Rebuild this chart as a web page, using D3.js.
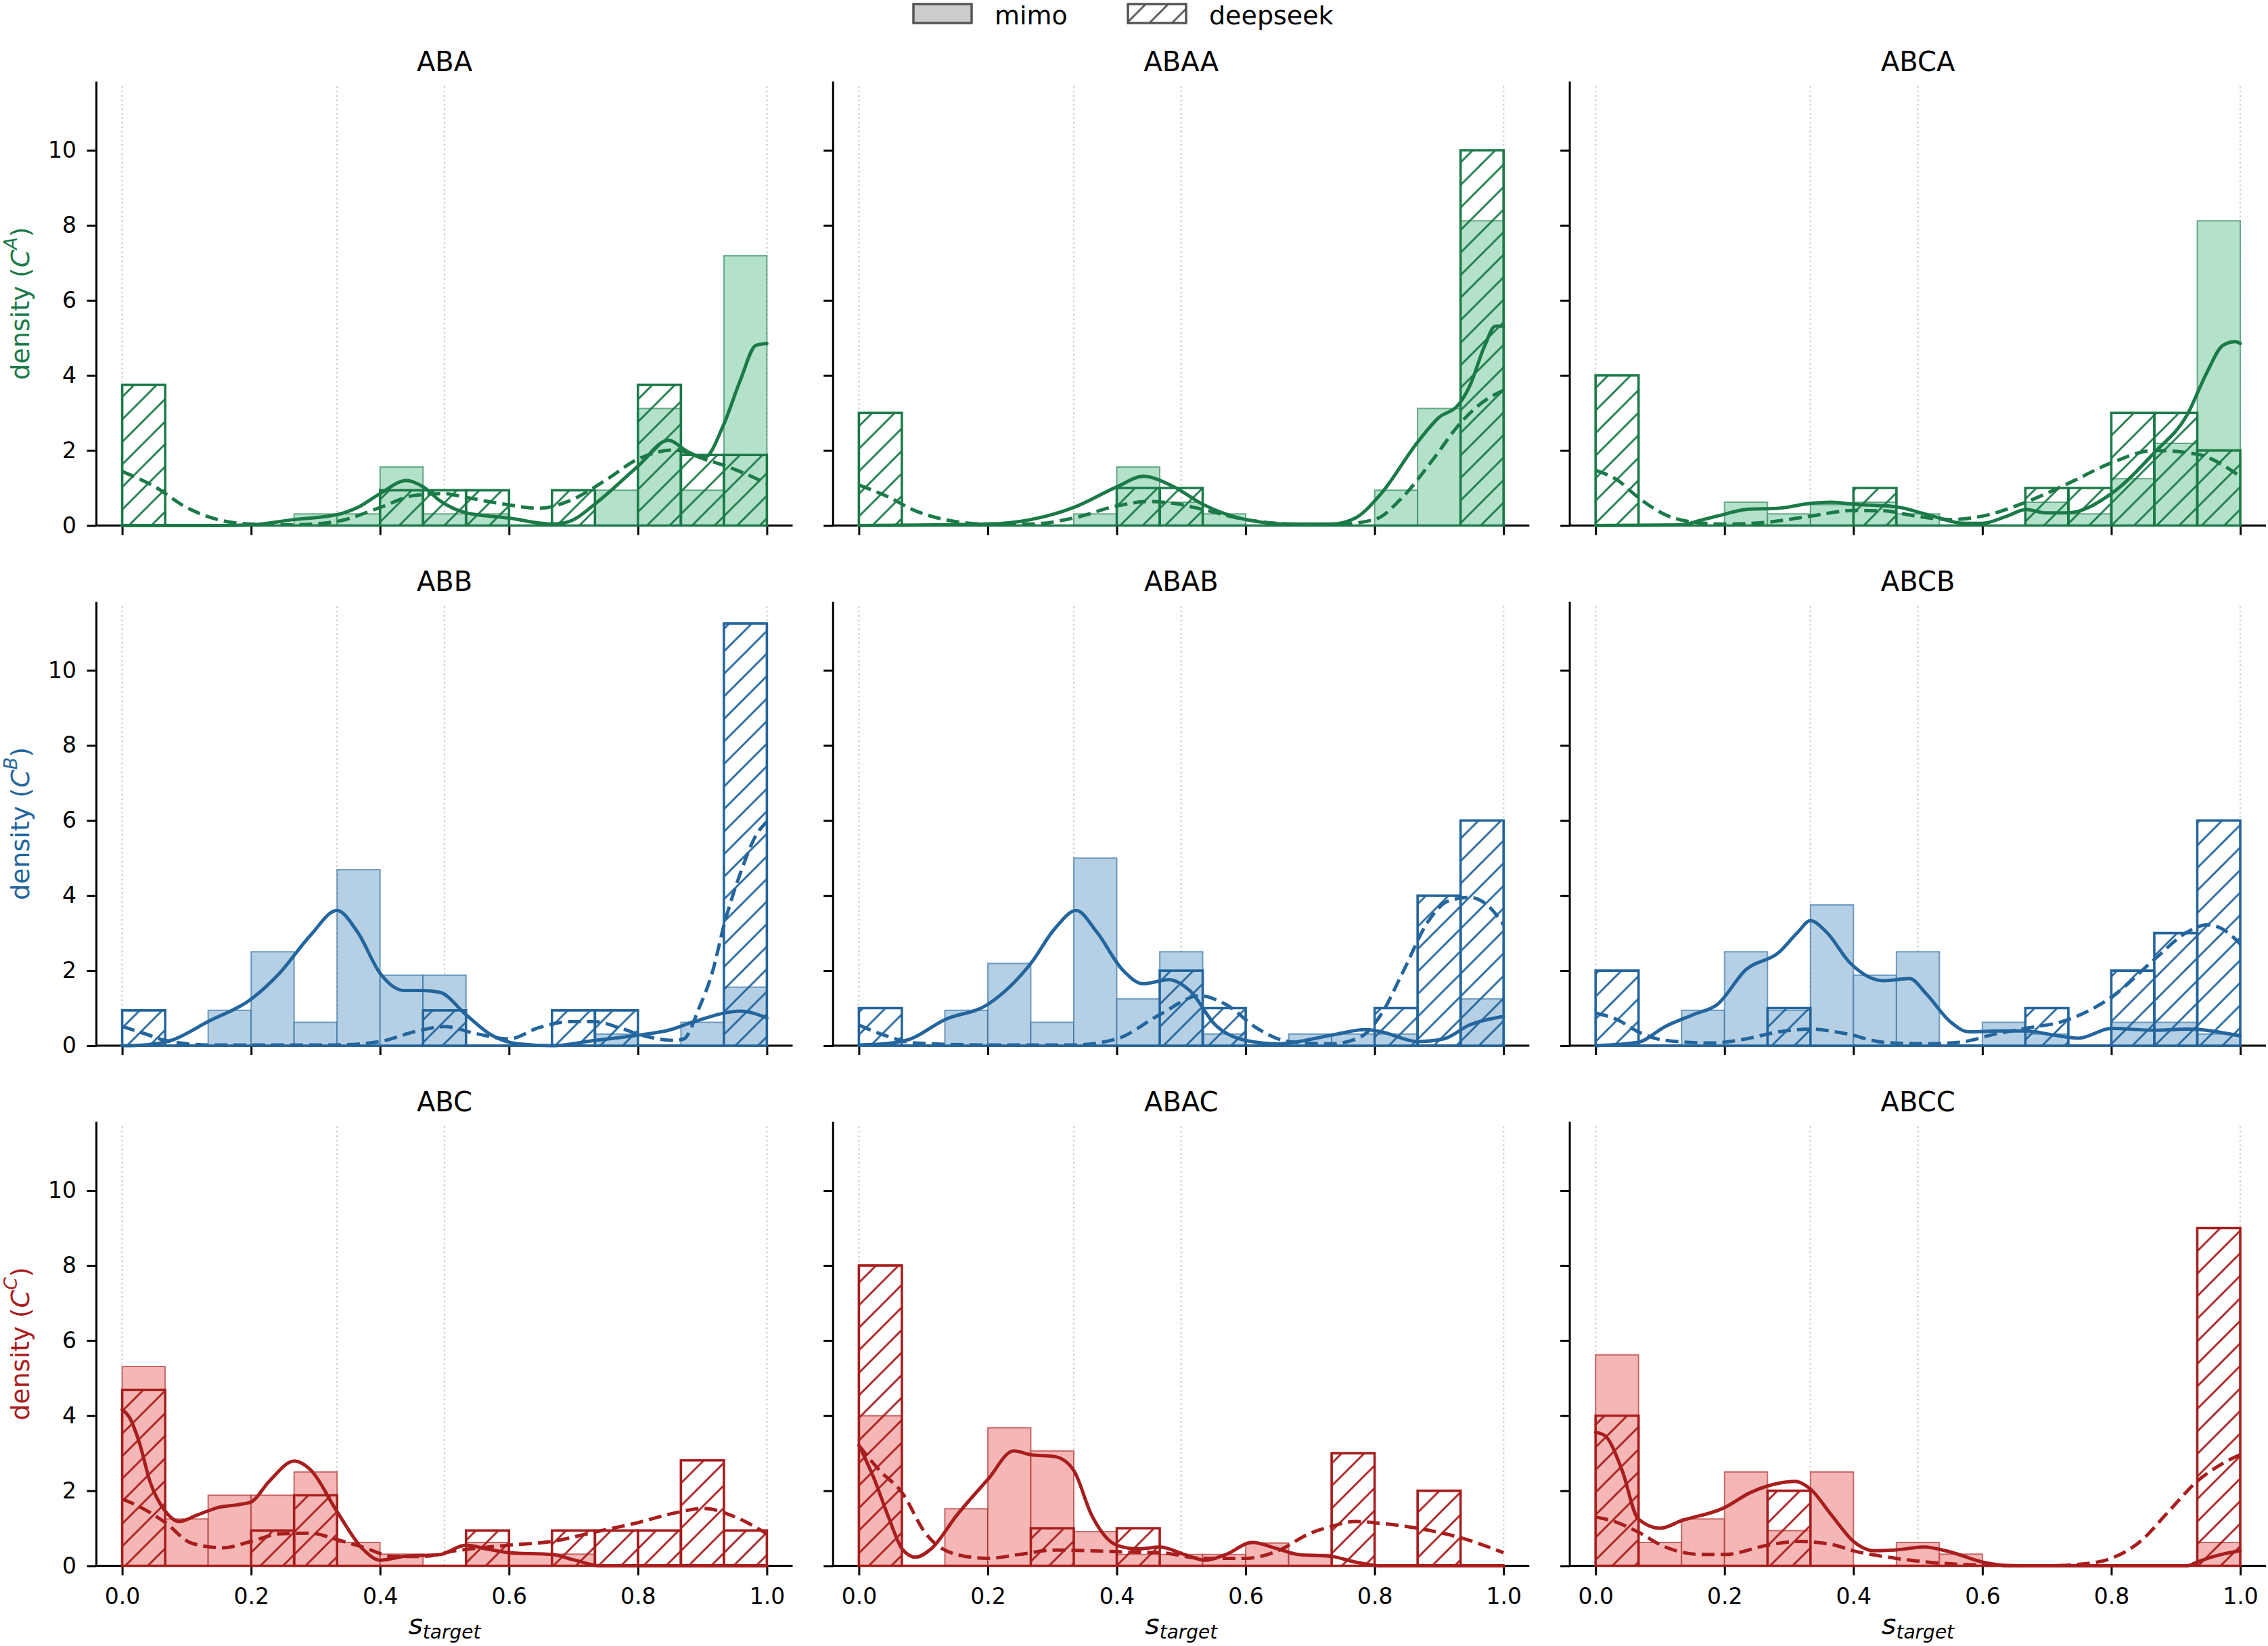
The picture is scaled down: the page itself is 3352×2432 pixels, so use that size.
<!DOCTYPE html>
<html>
<head>
<meta charset="utf-8">
<script src="https://cdn.jsdelivr.net/npm/d3@7"></script>
<style>
  body { margin: 0; background: #fff; }
  text { font-family: "DejaVu Sans", sans-serif; }
</style>
</head>
<body>
<svg id="chart"></svg>
<script>
// ---- data ----
const panelNames = ["ABA", "ABAA", "ABCA", "ABB", "ABAB", "ABCB", "ABC", "ABAC", "ABCC"];
const rowLetters = ["A", "B", "C"];
const legendNames = ["mimo", "deepseek"];
const xTicks = [0, 0.2, 0.4, 0.6, 0.8, 1.0];
const yTicks = [0, 2, 4, 6, 8, 10];
const guideX = [0, 1 / 3, 0.5, 1];

// density per bin, 15 bins over [0, 1]
const mimoHist = [
  [0, 0, 0, 0, 0.31, 0.31, 1.56, 0.31, 0.31, 0, 0, 0.94, 3.12, 0.94, 7.19],
  [0, 0, 0, 0, 0, 0.31, 1.56, 0.62, 0.31, 0, 0, 0, 0.94, 3.12, 8.12],
  [0, 0, 0, 0.62, 0.31, 0.56, 0.62, 0.31, 0, 0, 0.62, 0.31, 1.25, 2.19, 8.12],
  [0, 0, 0.94, 2.5, 0.62, 4.69, 1.88, 1.88, 0, 0, 0, 0.31, 0, 0.62, 1.56],
  [0, 0, 0.94, 2.19, 0.62, 5.0, 1.25, 2.5, 0.31, 0, 0.31, 0.31, 0.31, 0, 1.25],
  [0, 0, 0.94, 2.5, 0.94, 3.75, 1.88, 2.5, 0, 0.62, 0.31, 0, 0.62, 0.62, 0.31],
  [5.31, 1.25, 1.88, 1.88, 2.5, 0.62, 0.31, 0, 0.62, 0.31, 0.31, 0, 0, 0, 0],
  [4.0, 0, 1.52, 3.68, 3.06, 0.91, 0.3, 0.3, 0.3, 0.61, 0.3, 0, 0, 0, 0],
  [5.62, 0.62, 1.25, 2.5, 0.94, 2.5, 0, 0.62, 0.31, 0, 0, 0, 0, 0, 0.62]
];
const deepHist = [
  [3.75, 0, 0, 0, 0, 0, 0.94, 0.94, 0.94, 0, 0.94, 0, 3.75, 1.88, 1.88],
  [3, 0, 0, 0, 0, 0, 1, 1, 0, 0, 0, 0, 0, 0, 10],
  [4, 0, 0, 0, 0, 0, 1, 0, 0, 0, 1, 1, 3, 3, 2],
  [0.94, 0, 0, 0, 0, 0, 0, 0.94, 0, 0, 0.94, 0.94, 0, 0, 11.25],
  [1, 0, 0, 0, 0, 0, 0, 2, 1, 0, 0, 0, 1, 4, 6],
  [2, 0, 0, 0, 1, 0, 0, 0, 0, 0, 1, 0, 2, 3, 6],
  [4.69, 0, 0, 0.94, 1.88, 0, 0, 0, 0.94, 0, 0.94, 0.94, 0.94, 2.81, 0.94],
  [8, 0, 0, 0, 1, 0, 1, 0, 0, 0, 0, 3, 0, 2, 0],
  [4, 0, 0, 0, 2, 0, 0, 0, 0, 0, 0, 0, 0, 0, 9]
];

// KDE curves, [s_target, density] read at key points
const mimoKde = [
  [[0,0],[0.15,0],[0.2,0.02],[0.267,0.16],[0.333,0.29],[0.365,0.48],[0.4,0.85],[0.441,1.2],[0.467,1.03],[0.493,0.66],[0.533,0.34],[0.6,0.2],[0.667,0.04],[0.694,0.11],[0.733,0.57],[0.8,1.58],[0.847,2.27],[0.879,1.95],[0.903,1.81],[0.933,2.69],[0.959,3.88],[0.983,4.8],[1,4.85]],
  [[0,0],[0.2,0.04],[0.267,0.16],[0.333,0.48],[0.4,1.03],[0.441,1.31],[0.489,1.03],[0.533,0.57],[0.6,0.16],[0.667,0.04],[0.733,0.04],[0.77,0.2],[0.81,0.85],[0.867,2.23],[0.899,2.87],[0.931,3.24],[0.947,3.7],[0.971,4.8],[0.987,5.31],[1,5.31]],
  [[0,0],[0.133,0.02],[0.167,0.16],[0.2,0.3],[0.233,0.43],[0.284,0.46],[0.333,0.59],[0.366,0.62],[0.4,0.57],[0.466,0.5],[0.513,0.3],[0.572,0.06],[0.6,0.06],[0.638,0.25],[0.668,0.43],[0.697,0.34],[0.733,0.34],[0.8,0.85],[0.867,1.95],[0.918,2.96],[0.948,4.07],[0.973,4.8],[0.992,4.9],[1,4.85]],
  [[0,0],[0.035,0.02],[0.076,0.14],[0.133,0.64],[0.2,1.24],[0.244,1.93],[0.292,2.94],[0.333,3.6],[0.365,3.03],[0.4,1.93],[0.437,1.47],[0.467,1.47],[0.493,1.42],[0.533,0.83],[0.573,0.28],[0.614,0.05],[0.667,0],[0.733,0.14],[0.8,0.28],[0.847,0.41],[0.887,0.64],[0.959,0.92],[1,0.74]],
  [[0,0.02],[0.039,0.05],[0.08,0.18],[0.133,0.69],[0.2,1.1],[0.267,2.2],[0.304,3.12],[0.337,3.6],[0.369,3.03],[0.409,2.02],[0.441,1.65],[0.481,1.76],[0.513,1.47],[0.553,0.55],[0.6,0.14],[0.65,0.05],[0.733,0.28],[0.786,0.43],[0.81,0.37],[0.867,0.11],[0.907,0.18],[0.947,0.55],[1,0.78]],
  [[0,0],[0.066,0.09],[0.108,0.51],[0.152,0.83],[0.189,1.1],[0.233,2.02],[0.284,2.48],[0.314,3.03],[0.333,3.33],[0.358,3.03],[0.395,2.2],[0.447,1.73],[0.487,1.79],[0.513,1.38],[0.55,0.64],[0.579,0.37],[0.623,0.39],[0.667,0.39],[0.712,0.28],[0.749,0.2],[0.8,0.46],[0.867,0.41],[0.918,0.44],[1,0.26]],
  [[0,4.16],[0.011,3.96],[0.027,3.26],[0.043,2.25],[0.067,1.45],[0.088,1.18],[0.116,1.35],[0.148,1.55],[0.18,1.63],[0.2,1.7],[0.228,2.25],[0.267,2.79],[0.292,2.56],[0.333,1.45],[0.373,0.45],[0.4,0.15],[0.437,0.25],[0.493,0.3],[0.533,0.55],[0.565,0.45],[0.6,0.35],[0.667,0.3],[0.702,0.15],[0.742,0],[1,0]],
  [[0,3.21],[0.023,2.35],[0.047,1.25],[0.067,0.45],[0.088,0.23],[0.112,0.45],[0.152,1.35],[0.2,2.3],[0.24,3.06],[0.267,2.96],[0.304,2.91],[0.333,2.55],[0.361,1.35],[0.4,0.55],[0.433,0.45],[0.467,0.5],[0.505,0.3],[0.537,0.15],[0.569,0.3],[0.61,0.62],[0.65,0.45],[0.682,0.3],[0.733,0.25],[0.77,0.1],[0.81,0],[1,0]],
  [[0,3.56],[0.015,3.46],[0.041,2.55],[0.066,1.25],[0.1,1.0],[0.133,1.2],[0.2,1.55],[0.24,1.95],[0.284,2.2],[0.31,2.25],[0.333,2.05],[0.366,1.35],[0.4,0.65],[0.432,0.4],[0.469,0.43],[0.509,0.5],[0.55,0.37],[0.6,0.1],[0.646,0],[0.918,0],[0.933,0.1],[0.97,0.3],[1,0.4]]
];
const deepKde = [
  [[0,1.44],[0.051,1.03],[0.1,0.48],[0.148,0.16],[0.2,0.04],[0.267,0.02],[0.333,0.11],[0.4,0.48],[0.453,0.8],[0.5,0.85],[0.533,0.75],[0.6,0.55],[0.646,0.46],[0.694,0.66],[0.75,1.21],[0.8,1.77],[0.855,2.01],[0.903,1.77],[0.951,1.49],[1,1.12]],
  [[0,1.08],[0.047,0.75],[0.088,0.39],[0.133,0.16],[0.2,0.04],[0.267,0.04],[0.333,0.2],[0.4,0.52],[0.449,0.64],[0.489,0.59],[0.533,0.43],[0.6,0.16],[0.667,0.04],[0.733,0.02],[0.8,0.16],[0.843,0.75],[0.891,1.77],[0.931,2.69],[0.971,3.33],[1,3.6]],
  [[0,1.47],[0.034,1.21],[0.066,0.75],[0.108,0.29],[0.152,0.09],[0.2,0.04],[0.267,0.09],[0.333,0.25],[0.4,0.4],[0.447,0.39],[0.498,0.25],[0.55,0.16],[0.6,0.25],[0.667,0.62],[0.733,1.12],[0.8,1.67],[0.867,2.0],[0.933,1.9],[1,1.31]],
  [[0,0.51],[0.035,0.32],[0.067,0.14],[0.132,0.02],[0.333,0.02],[0.4,0.11],[0.453,0.37],[0.5,0.51],[0.549,0.32],[0.6,0.18],[0.646,0.48],[0.694,0.64],[0.733,0.64],[0.774,0.46],[0.806,0.28],[0.855,0.14],[0.871,0.18],[0.895,1.01],[0.915,1.93],[0.935,3.31],[0.959,4.6],[0.983,5.6],[1,5.97]],
  [[0,0.55],[0.039,0.28],[0.088,0.07],[0.2,0.02],[0.333,0.02],[0.4,0.18],[0.467,0.83],[0.529,1.33],[0.569,1.1],[0.618,0.46],[0.667,0.11],[0.733,0.05],[0.778,0.23],[0.81,0.83],[0.843,1.93],[0.883,3.31],[0.915,3.86],[0.947,3.95],[0.979,3.68],[1,3.22]],
  [[0,0.87],[0.034,0.69],[0.066,0.37],[0.108,0.14],[0.181,0.07],[0.233,0.18],[0.284,0.37],[0.333,0.44],[0.388,0.32],[0.447,0.09],[0.513,0.05],[0.564,0.09],[0.623,0.32],[0.667,0.46],[0.727,0.66],[0.8,1.29],[0.867,2.3],[0.918,3.03],[0.948,3.22],[0.97,3.13],[1,2.71]],
  [[0,1.78],[0.035,1.5],[0.067,1.15],[0.108,0.6],[0.156,0.48],[0.2,0.65],[0.244,0.85],[0.292,0.87],[0.333,0.7],[0.373,0.5],[0.421,0.25],[0.467,0.25],[0.517,0.4],[0.6,0.55],[0.667,0.65],[0.733,0.9],[0.8,1.15],[0.855,1.4],[0.903,1.53],[0.951,1.3],[1,0.85]],
  [[0,3.21],[0.031,2.56],[0.067,1.95],[0.104,0.85],[0.152,0.3],[0.2,0.2],[0.248,0.3],[0.304,0.42],[0.361,0.4],[0.409,0.37],[0.467,0.35],[0.533,0.2],[0.6,0.2],[0.65,0.4],[0.698,0.85],[0.733,1.05],[0.77,1.18],[0.81,1.13],[0.867,1.0],[0.933,0.75],[1,0.35]],
  [[0,1.3],[0.034,1.15],[0.066,0.9],[0.108,0.5],[0.167,0.3],[0.2,0.3],[0.267,0.55],[0.314,0.65],[0.366,0.57],[0.4,0.4],[0.466,0.2],[0.534,0.07],[0.6,0.02],[0.697,0],[0.756,0.05],[0.8,0.2],[0.845,0.65],[0.889,1.45],[0.933,2.25],[0.97,2.7],[1,2.96]]
];

// ---- styles / layout ----
const lineColor = ["#1b7a48", "#23659c", "#a81d1d"];
const fillColor = ["#b3e1c9", "#b5d0e5", "#f4b7b5"];
const W = 3352, H = 2432;
const colLeft = 180.6, colStep = 1088.8, plotW = 952.8;
const rowBase = 776.5, rowStep = 768.5, plotH = 656;
const yMax = 11.83;
const nBins = 15;
const edges = d3.range(nBins + 1).map(i => i / nBins);

const svg = d3.select("#chart").attr("width", W).attr("height", H);
svg.append("rect").attr("width", W).attr("height", H).attr("fill", "#fff");

const defs = svg.append("defs");
function addHatch(id, color) {
  const s = 33.3;
  const p = defs.append("pattern")
    .attr("id", id)
    .attr("patternUnits", "userSpaceOnUse")
    .attr("width", s).attr("height", s)
    .attr("y", H % s);
  p.append("path")
    .attr("d", `M0,${s}L${s},0M${-s / 2},${s / 2}L${s / 2},${-s / 2}M${s / 2},${1.5 * s}L${1.5 * s},${s / 2}`)
    .attr("stroke", color)
    .attr("stroke-width", 2.8);
}
lineColor.forEach((c, i) => addHatch("hatch" + i, c));
addHatch("hatchGray", "#555");

const barPath = (x, y, i, v) => {
  const x0 = x(edges[i]), x1 = x(edges[i + 1]), y0 = y(0), y1 = y(v);
  return `M${x0},${y0}L${x0},${y1}L${x1},${y1}L${x1},${y0}Z`;
};

panelNames.forEach((name, k) => {
  const row = Math.floor(k / 3), col = k % 3;
  const left = colLeft + col * colStep;
  const base = rowBase + row * rowStep;
  const x = d3.scaleLinear().domain([0, 1]).range([left, left + plotW]);
  const y = d3.scaleLinear().domain([0, yMax]).range([base, base - plotH]);
  const g = svg.append("g");

  // dotted guides
  g.selectAll(".guide").data(guideX).join("line")
    .attr("x1", d => x(d)).attr("x2", d => x(d))
    .attr("y1", base).attr("y2", base - plotH + 5)
    .attr("stroke", "#cfcfcf").attr("stroke-width", 2.4)
    .attr("stroke-dasharray", "2.4,4.2");

  // axes
  const yAxis = d3.axisLeft(y).tickValues(yTicks).tickSize(14).tickPadding(15.5)
    .tickFormat(col === 0 ? d3.format("d") : () => "");
  const xAxis = d3.axisBottom(x).tickValues(xTicks).tickSize(14).tickPadding(19)
    .tickFormat(row === 2 ? d3.format(".1f") : () => "");
  const ya = g.append("g").attr("transform", `translate(${x(-0.04)},0)`).call(yAxis);
  const xa = g.append("g").attr("transform", `translate(0,${base})`).call(xAxis);
  [ya, xa].forEach(a => {
    a.select(".domain").remove();
    a.selectAll(".tick line").attr("stroke", "#000").attr("stroke-width", 3);
    a.selectAll(".tick text").attr("fill", "#000").attr("font-size", 33)
      .attr("font-family", "DejaVu Sans");
  });
  g.append("line").attr("x1", x(-0.04)).attr("x2", x(-0.04))
    .attr("y1", base + 1.5).attr("y2", base - plotH)
    .attr("stroke", "#000").attr("stroke-width", 3);
  g.append("line").attr("x1", x(-0.04)).attr("x2", x(1.04))
    .attr("y1", base).attr("y2", base)
    .attr("stroke", "#000").attr("stroke-width", 3);

  // mimo bars
  g.selectAll(".mimo").data(mimoHist[k]).join("path")
    .attr("d", (v, i) => barPath(x, y, i, v))
    .attr("fill", fillColor[row])
    .attr("stroke", lineColor[row]).attr("stroke-opacity", 0.6)
    .attr("stroke-width", 2);

  // deepseek bars (hatched, no fill)
  g.selectAll(".deep").data(deepHist[k]).join("path")
    .attr("d", (v, i) => barPath(x, y, i, v))
    .attr("fill", `url(#hatch${row})`)
    .attr("stroke", lineColor[row]).attr("stroke-width", 3.6)
    .attr("stroke-linejoin", "miter");

  // KDE lines
  const line = d3.line().x(d => x(d[0])).y(d => y(d[1])).curve(d3.curveMonotoneX);
  g.append("path").datum(mimoKde[k]).attr("d", line)
    .attr("fill", "none").attr("stroke", lineColor[row]).attr("stroke-width", 5)
    .attr("stroke-linecap", "round");
  g.append("path").datum(deepKde[k]).attr("d", line)
    .attr("fill", "none").attr("stroke", lineColor[row]).attr("stroke-width", 5)
    .attr("stroke-dasharray", "19,9");

  // title
  g.append("text").attr("x", x(0.5)).attr("y", base - plotH - 30)
    .attr("text-anchor", "middle").attr("dominant-baseline", "central")
    .attr("font-size", 40).text(name);

  // y label
  if (col === 0) {
    const t = g.append("text")
      .attr("transform", `translate(29.5,${base - plotH / 2}) rotate(-90)`)
      .attr("text-anchor", "middle").attr("dominant-baseline", "central")
      .attr("font-size", 38).attr("fill", lineColor[row]);
    t.append("tspan").text("density (");
    t.append("tspan").attr("font-style", "italic").text("C");
    t.append("tspan").attr("font-style", "italic").attr("font-size", 27).attr("dy", -15).text(rowLetters[row]);
    t.append("tspan").attr("dy", 15).text(")");
  }

  // x label
  if (row === 2) {
    const t = g.append("text").attr("x", x(0.5)).attr("y", 2414)
      .attr("text-anchor", "middle").attr("font-size", 41);
    t.append("tspan").attr("font-style", "italic").text("s");
    t.append("tspan").attr("font-style", "italic").attr("font-size", 28).attr("dy", 7).text("target");
  }
});

// legend
const leg = svg.append("g");
const legX = [1350, 1667];
legendNames.forEach((n, i) => {
  leg.append("rect").attr("x", legX[i]).attr("y", 6).attr("width", 86).attr("height", 28)
    .attr("fill", i === 0 ? "#cccccc" : "url(#hatchGray)")
    .attr("stroke", "#555").attr("stroke-width", 3.5);
  leg.append("text").attr("x", legX[i] + 120).attr("y", 36)
    .attr("font-size", 38).text(n);
});
</script>
</body>
</html>
